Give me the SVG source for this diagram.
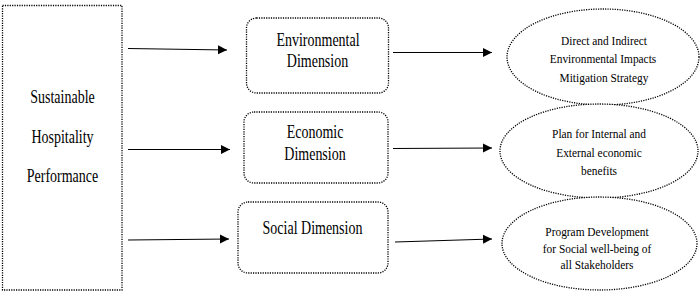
<svg xmlns="http://www.w3.org/2000/svg" width="700" height="306" viewBox="0 0 700 306">
<style>
.dot{fill:#fff;stroke:#000;stroke-width:1.3;stroke-dasharray:1.2 1.2}
.ln{stroke:#000;stroke-width:1.1;fill:none}
.t{font-family:"Liberation Serif","DejaVu Serif","Times New Roman",serif;fill:#000;text-anchor:middle}
.big{font-size:14px}
.sm{font-size:11.4px}
</style>
<defs>
<marker id="ah" markerUnits="userSpaceOnUse" markerWidth="10" markerHeight="10" refX="9" refY="5" orient="auto">
<path d="M0,0.5 L9,5 L0,9.5 Z" fill="#000"/>
</marker>
</defs>
<rect width="700" height="306" fill="#fff"/>
<g id="n-shp">
<rect class="dot" x="2.5" y="5.5" width="119.5" height="284.5"/>
<text class="t big" transform="translate(62.5,103) scale(1,1.28)">Sustainable</text>
<text class="t big" transform="translate(62.5,143) scale(1,1.28)">Hospitality</text>
<text class="t big" transform="translate(62.5,182) scale(1,1.28)">Performance</text>
</g>
<g id="n-env">
<rect class="dot" x="246.5" y="18" width="142" height="75" rx="10"/>
<text class="t big" transform="translate(318,45.5) scale(1,1.3)">Environmental</text>
<text class="t big" transform="translate(317.5,67) scale(1,1.3)">Dimension</text>
</g>
<g id="n-eco">
<rect class="dot" x="244" y="112" width="144" height="71" rx="10"/>
<text class="t big" transform="translate(315,138) scale(1,1.3)">Economic</text>
<text class="t big" transform="translate(315,160) scale(1,1.3)">Dimension</text>
</g>
<g id="n-soc">
<rect class="dot" x="238" y="202" width="150" height="71" rx="10"/>
<text class="t big" transform="translate(312.5,234) scale(1,1.3)">Social Dimension</text>
</g>
<g id="n-env-out">
<ellipse class="dot" cx="603" cy="57" rx="96" ry="48"/>
<text class="t sm" transform="translate(604,45) scale(1,1.15)">Direct and Indirect</text>
<text class="t sm" transform="translate(603,63) scale(1,1.15)">Environmental Impacts</text>
<text class="t sm" transform="translate(604,81.5) scale(1,1.15)">Mitigation Strategy</text>
</g>
<g id="n-eco-out">
<ellipse class="dot" cx="599" cy="151" rx="99" ry="47"/>
<text class="t sm" transform="translate(599,138) scale(1,1.15)">Plan for Internal and</text>
<text class="t sm" transform="translate(599,156.5) scale(1,1.15)">External economic</text>
<text class="t sm" transform="translate(599,175) scale(1,1.15)">benefits</text>
</g>
<g id="n-soc-out">
<ellipse class="dot" cx="599.5" cy="243.5" rx="97.5" ry="46.5"/>
<text class="t sm" transform="translate(597,236) scale(1,1.15)">Program Development</text>
<text class="t sm" transform="translate(597,252.5) scale(1,1.15)">for Social well-being of</text>
<text class="t sm" transform="translate(597,269) scale(1,1.15)">all Stakeholders</text>
</g>
<g id="connectors">
<line class="ln" x1="128" y1="48.5" x2="227" y2="50" marker-end="url(#ah)"/>
<line class="ln" x1="128" y1="149.5" x2="230" y2="149.5" marker-end="url(#ah)"/>
<line class="ln" x1="128" y1="240" x2="229" y2="239" marker-end="url(#ah)"/>
<line class="ln" x1="393" y1="52.5" x2="492" y2="52.5" marker-end="url(#ah)"/>
<line class="ln" x1="393" y1="148.5" x2="492" y2="148" marker-end="url(#ah)"/>
<line class="ln" x1="395" y1="242" x2="492" y2="239" marker-end="url(#ah)"/>
</g>
</svg>
